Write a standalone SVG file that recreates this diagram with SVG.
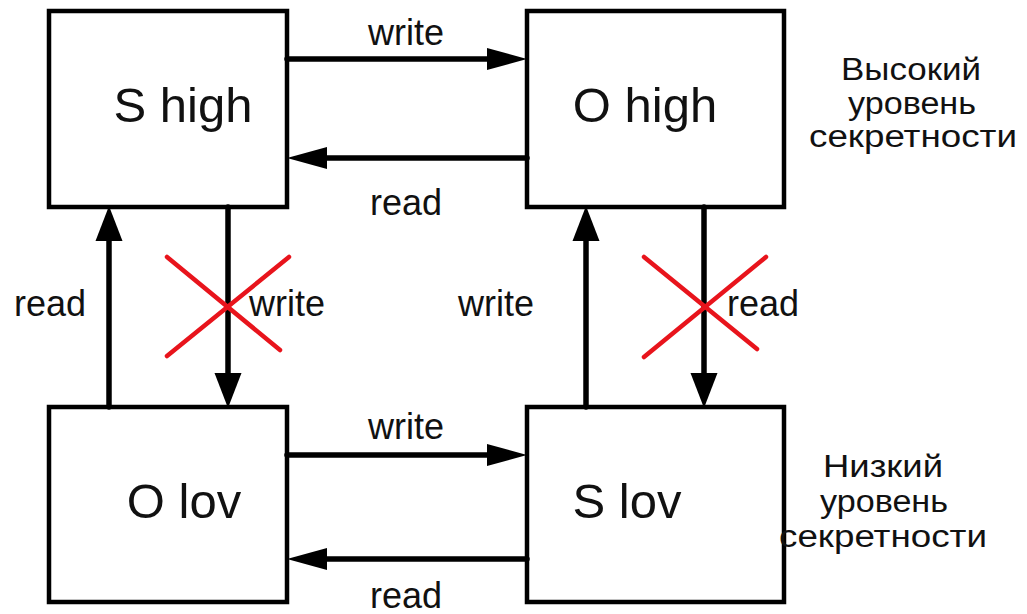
<svg xmlns="http://www.w3.org/2000/svg" width="1027" height="614" viewBox="0 0 1027 614">
  <style>
    .box { fill: #ffffff; stroke: #000000; stroke-width: 4.5; }
    .title { font-family: "Liberation Sans", Arial, sans-serif; font-size: 49px; fill: #111111; text-anchor: middle; }
    .lbl { font-family: "Liberation Sans", Arial, sans-serif; font-size: 36px; fill: #111111; text-anchor: middle; }
    .side { font-family: "Liberation Sans", Arial, sans-serif; font-size: 31px; fill: #111111; text-anchor: middle; }
    .edge { stroke: #000000; stroke-width: 5.5; stroke-linecap: round; fill: none; }
    .edgeH { marker-end: url(#headH); }
    .edgeV { marker-end: url(#headV); }
    .cross { stroke: #e8141c; stroke-width: 4.5; stroke-linecap: round; fill: none; }
  </style>
  <defs>
    <marker id="headH" markerUnits="userSpaceOnUse" markerWidth="40" markerHeight="22" refX="20" refY="11" orient="auto" overflow="visible">
      <path d="M0,0 L40,11 L0,22 Z" fill="#000000"/>
    </marker>
    <marker id="headV" markerUnits="userSpaceOnUse" markerWidth="35" markerHeight="27" refX="17" refY="13.5" orient="auto" overflow="visible">
      <path d="M0,0 L35,13.5 L0,27 Z" fill="#000000"/>
    </marker>
  </defs>

  <rect width="1027" height="614" fill="#ffffff"/>

  <g id="s-high">
    <rect class="box" x="49" y="11" width="238" height="196"/>
    <text class="title" x="183" y="122">S high</text>
  </g>
  <g id="o-high">
    <rect class="box" x="527" y="11" width="257" height="196"/>
    <text class="title" x="645" y="122">O high</text>
  </g>
  <g id="o-lov">
    <rect class="box" x="49" y="407" width="238" height="195"/>
    <text class="title" x="184" y="518">O lov</text>
  </g>
  <g id="s-lov">
    <rect class="box" x="527" y="407" width="257" height="195"/>
    <text class="title" x="627" y="518">S lov</text>
  </g>

  <g id="connectors">
    <!-- high level pair -->
    <line class="edge edgeH" x1="287" y1="59" x2="507" y2="59"/>
    <line class="edge edgeH" x1="527" y1="158" x2="307" y2="158"/>
    <!-- low level pair -->
    <line class="edge edgeH" x1="287" y1="455" x2="507" y2="455"/>
    <line class="edge edgeH" x1="527" y1="559" x2="307" y2="559"/>
    <!-- vertical links -->
    <line class="edge edgeV" x1="109" y1="407" x2="109" y2="224"/>
    <line class="edge edgeV" x1="228" y1="207" x2="228" y2="390"/>
    <line class="edge edgeV" x1="586" y1="407" x2="586" y2="224"/>
    <line class="edge edgeV" x1="704" y1="207" x2="704" y2="390"/>
    <!-- forbidden flows -->
    <line class="cross" x1="167" y1="257" x2="280" y2="350"/>
    <line class="cross" x1="289" y1="257" x2="167" y2="356"/>
    <line class="cross" x1="644" y1="257" x2="757" y2="349"/>
    <line class="cross" x1="766" y1="257" x2="644" y2="357"/>

    <text class="lbl" x="406" y="45">write</text>
    <text class="lbl" x="406" y="215">read</text>
    <text class="lbl" x="406" y="439">write</text>
    <text class="lbl" x="406" y="608">read</text>
    <text class="lbl" x="50" y="316">read</text>
    <text class="lbl" x="287" y="316">write</text>
    <text class="lbl" x="496" y="316">write</text>
    <text class="lbl" x="763" y="316">read</text>
  </g>

  <g id="high-level-note">
    <text class="side" x="911" y="80" textLength="140" lengthAdjust="spacingAndGlyphs">Высокий</text>
    <text class="side" x="912" y="114" textLength="128" lengthAdjust="spacingAndGlyphs">уровень</text>
    <text class="side" x="913" y="147" textLength="208" lengthAdjust="spacingAndGlyphs">секретности</text>
  </g>
  <g id="low-level-note">
    <text class="side" x="883" y="477" textLength="120" lengthAdjust="spacingAndGlyphs">Низкий</text>
    <text class="side" x="884" y="512" textLength="128" lengthAdjust="spacingAndGlyphs">уровень</text>
    <text class="side" x="883" y="547" textLength="208" lengthAdjust="spacingAndGlyphs">секретности</text>
  </g>
</svg>
